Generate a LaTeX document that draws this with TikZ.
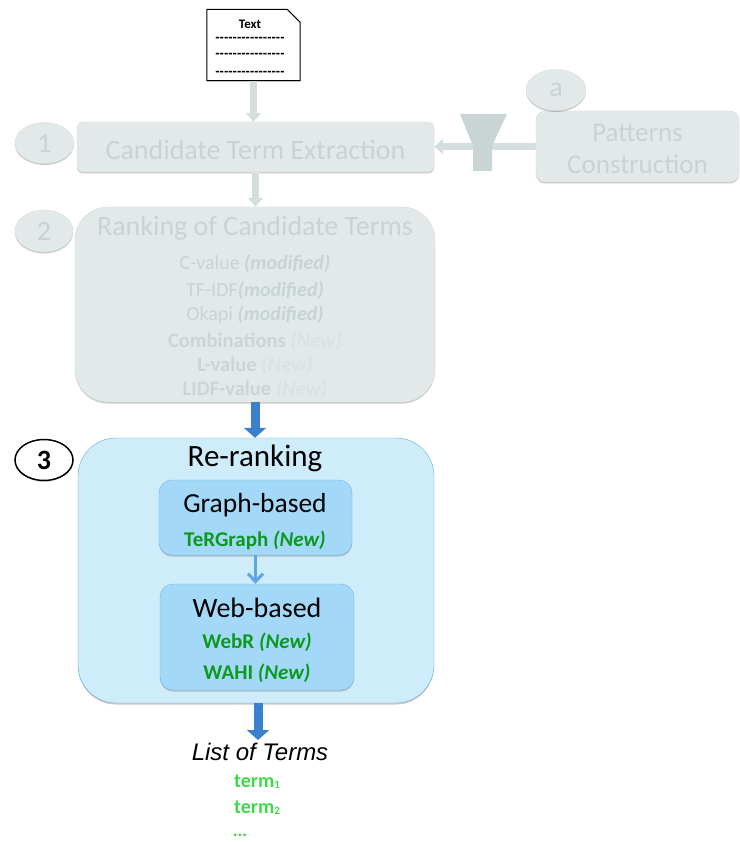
\documentclass[tikz,border=0pt]{standalone}
\usepackage{fontspec}
\setmainfont{Carlito}
\newfontfamily\arialfont{Liberation Sans}
\usetikzlibrary{shadows,arrows.meta,shapes.geometric}
\definecolor{fadefill}{HTML}{E3E9E9}
\definecolor{fadeline}{HTML}{D3DEDE}
\definecolor{fadetext}{HTML}{C8D4D4}
\definecolor{fadebold}{HTML}{CCD5D5}
\definecolor{fadenew}{HTML}{DAE2E5}
\definecolor{outerblue}{HTML}{CFECFB}
\definecolor{outerline}{HTML}{66AEDB}
\definecolor{innerblue}{HTML}{A3D8F8}
\definecolor{innerline}{HTML}{74B6E6}
\definecolor{arrowblue}{HTML}{3A80CC}
\definecolor{midarrow}{HTML}{5AA7E2}
\definecolor{darkgreen}{HTML}{0B9A1E}
\definecolor{lightgreen}{HTML}{3FD84A}
\definecolor{funnelgray}{HTML}{C9D5D5}
\tikzset{
  x=1pt,y=-1pt,
  softshadow/.style={drop shadow={shadow xshift=0pt,shadow yshift=-1.5pt,opacity=.35,fill=black!60}},
  fadebox/.style={draw=fadeline,fill=fadefill,softshadow,inner sep=0pt,text=fadetext},
  fadecirc/.style={ellipse,draw=fadeline,fill=fadefill,softshadow,inner sep=0pt,text=fadetext},
  bluebox/.style={draw=innerline,fill=innerblue,softshadow,inner sep=0pt},
  label/.style={inner sep=0pt,anchor=center},
  fadearrow/.style={draw=fadeline,line width=7pt,-{Triangle[length=9pt,width=15pt]}},
  bluearrow/.style={draw=arrowblue,line width=9pt,-{Triangle[length=10pt,width=22pt]}},
}
\begin{document}
\begin{tikzpicture}
\useasboundingbox (0,0) rectangle (739,842);
% document
\node[label,minimum width=93pt,minimum height=71pt] (doc) at (253.5,45) {};
\draw[black,line width=1pt,fill=white,drop shadow={shadow xshift=0pt,shadow yshift=-1pt,opacity=.4}]
  (doc.north west) -- ([xshift=-13pt]doc.north east) -- ([yshift=-13pt]doc.north east) -- (doc.south east) -- (doc.south west) -- cycle;
\node[label,font=\bfseries\fontsize{13}{15}\selectfont] (doctitle) at (250,24) {Text};
\node[label,font=\arialfont\bfseries\fontsize{13}{13}\selectfont] (d1) at (250,39.5) {----------------};
\node[label,font=\arialfont\bfseries\fontsize{13}{13}\selectfont] (d2) at (250,55.5) {----------------};
\node[label,font=\arialfont\bfseries\fontsize{13}{13}\selectfont] (d3) at (250,73) {----------------};
% faded boxes
\node[fadebox,rounded corners=6pt,minimum width=357pt,minimum height=50pt] (cand) at (255.5,147) {};
\node[label,text=fadetext,font=\fontsize{28}{30}\selectfont] (candtxt) at (255.5,150) {Candidate Term Extraction};
\node[fadecirc,minimum width=59pt,minimum height=41pt,font=\fontsize{28}{30}\selectfont] (c1) at (44.5,143) {1};
\node[fadebox,rounded corners=9pt,minimum width=203pt,minimum height=71pt] (pat) at (637.5,146.5) {};
\node[label,text=fadetext,align=center,font=\fontsize{27}{32}\selectfont] (pattxt) at (637.5,149) {Patterns\\[0pt]Construction};
\node[fadecirc,minimum width=60pt,minimum height=41pt,font=\fontsize{28}{30}\selectfont] (ca) at (556,90) {a};
\node[fadebox,rounded corners=33pt,minimum width=360pt,minimum height=195pt] (rank) at (255,304.5) {};
\node[label,text=fadetext,font=\fontsize{28}{30}\selectfont] (ranktitle) at (255,228) {Ranking of Candidate Terms};
\node[fadecirc,minimum width=58pt,minimum height=42pt,font=\fontsize{28}{30}\selectfont] (c2) at (44,231) {2};
\node[label,text=fadetext,font=\fontsize{20}{22}\selectfont] (r1) at (255,264) {C-value \textit{\textbf{(modified)}}};
\node[label,text=fadetext,font=\fontsize{20}{22}\selectfont] (r2) at (255,291) {TF-IDF\textit{\textbf{(modified)}}};
\node[label,text=fadetext,font=\fontsize{20}{22}\selectfont] (r3) at (255,315) {Okapi \textit{\textbf{(modified)}}};
\node[label,text=fadebold,font=\bfseries\fontsize{20.5}{22}\selectfont] (r4) at (255,341) {Combinations \textcolor{fadenew}{\textit{(New)}}};
\node[label,text=fadebold,font=\bfseries\fontsize{20.5}{22}\selectfont] (r5) at (255,365) {L-value \textcolor{fadenew}{\textit{(New)}}};
\node[label,text=fadebold,font=\bfseries\fontsize{20.5}{22}\selectfont] (r6) at (255,389) {LIDF-value \textcolor{fadenew}{\textit{(New)}}};
% faded connectors
\draw[fadearrow] (doc.south) -- (doc.south |- cand.north);
\draw[fadearrow] (cand.south) -- (cand.south |- rank.north);
\draw[fadearrow] (pat.west) -- (pat.west -| cand.east);
\node[label,minimum width=47pt,minimum height=57pt] (funnel) at (483.5,142.5) {};
\fill[funnelgray] (460,114) -- (507,114) -- (492,146) -- (492,171) -- (473,171) -- (473,146) -- cycle;
% re-ranking
\node[draw=outerline,fill=outerblue,softshadow,rounded corners=38pt,minimum width=356pt,minimum height=265pt,inner sep=0pt] (rerank) at (256,570.5) {};
\node[label,font=\fontsize{31}{33}\selectfont] (rerankt) at (255,458) {Re-ranking};
\node[ellipse,draw=black,line width=1.5pt,fill=white,inner sep=0pt,minimum width=58pt,minimum height=41pt,font=\bfseries\fontsize{28}{30}\selectfont,drop shadow={shadow xshift=0pt,shadow yshift=-1.5pt,opacity=.25}] (c3) at (44,460) {3};
\node[bluebox,rounded corners=13pt,minimum width=193pt,minimum height=75pt] (graph) at (255.5,517.5) {};
\node[label,font=\fontsize{27.5}{30}\selectfont] (grapht) at (255,505) {Graph-based};
\node[label,text=darkgreen,font=\bfseries\fontsize{21}{23}\selectfont] (tergraph) at (255,540) {TeRGraph \textit{(New)}};
\node[bluebox,rounded corners=13pt,minimum width=194pt,minimum height=106pt] (web) at (257,637) {};
\node[label,font=\fontsize{28}{30}\selectfont] (webt) at (257,608) {Web-based};
\node[label,text=darkgreen,font=\bfseries\fontsize{21}{23}\selectfont] (webr) at (257,642) {WebR \textit{(New)}};
\node[label,text=darkgreen,font=\bfseries\fontsize{21}{23}\selectfont] (wahi) at (257,673) {WAHI \textit{(New)}};
\draw[draw=midarrow,line width=3pt,-{Straight Barb[length=8pt,width=15pt]}] (graph.south) -- (graph.south |- web.north);
% blue connectors
\draw[bluearrow] (rank.south) -- (rank.south |- rerank.north);
\node[label,font=\arialfont\itshape\fontsize{24}{26}\selectfont] (list) at (260,752) {List of Terms};
\coordinate (listtop) at (258,740);
\draw[bluearrow] (rerank.south -| listtop) -- (listtop);
\node[label,text=lightgreen,font=\bfseries\fontsize{20}{22}\selectfont] (t1) at (257,782) {term\fontsize{11}{13}\selectfont\raisebox{-1pt}{1}};
\node[label,text=lightgreen,font=\bfseries\fontsize{20}{22}\selectfont] (t2) at (257,808) {term\fontsize{11}{13}\selectfont\raisebox{-1pt}{2}};
\node[label,text=lightgreen,font=\bfseries\fontsize{18}{20}\selectfont] (t3) at (240,835) {...};
\end{tikzpicture}
\end{document}
